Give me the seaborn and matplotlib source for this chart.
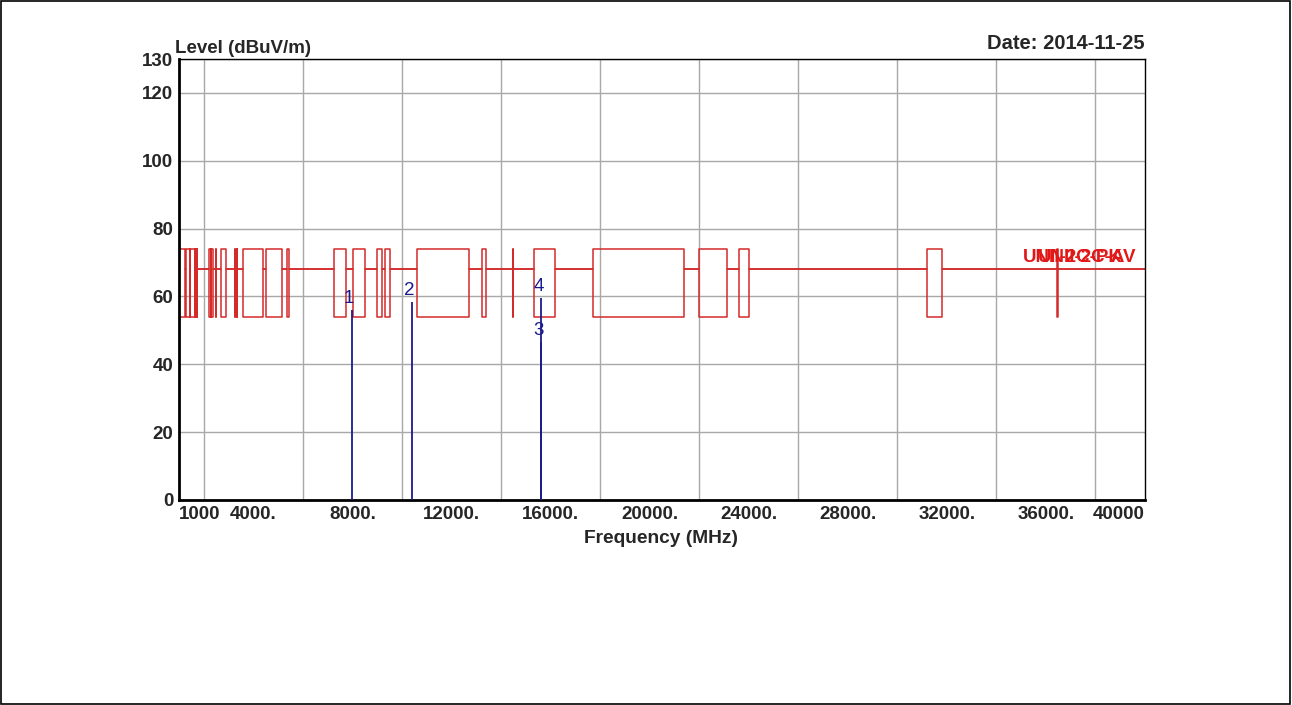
import numpy as np
import pandas as pd
import matplotlib
matplotlib.use("Agg")
import matplotlib.pyplot as plt
import seaborn as sns

# ---------------- data ----------------
# restricted band edges (MHz)
band_start = [1000, 1300, 1435, 1645.5, 1660, 1718.8, 2200, 2310, 2483.5, 2690,
              3260, 3332, 3345.8, 3600, 4500, 5350, 7250, 8025, 9000, 9300,
              10600, 13250, 14470, 15350, 17700, 22010, 23600, 31200, 36430]
band_end = [1240, 1427, 1626.5, 1646.5, 1710, 1722.2, 2300, 2390, 2500, 2900,
            3267, 3339, 3358, 4400, 5150, 5460, 7750, 8500, 9200, 9500,
            12700, 13400, 14500, 16200, 21400, 23120, 24000, 31800, 36500]
limit_base = 68.2      # dBuV/m outside restricted bands
limit_peak = 74.0      # peak limit inside restricted bands
limit_avg = 54.0       # average limit inside restricted bands
freq_min, freq_max = 1000, 40000

marker_id = ["1", "2", "3", "4"]
marker_freq = [7970, 10390, 15620, 15620]
marker_level = [56.0, 58.4, 46.6, 59.6]

xtick_vals = [1000, 4000, 8000, 12000, 16000, 20000, 24000, 28000, 32000, 36000, 40000]
xtick_text = ["1000", "4000.", "8000.", "12000.", "16000.", "20000.", "24000.",
              "28000.", "32000.", "36000.", "40000"]
ytick_vals = [0, 20, 40, 60, 80, 100, 120, 130]

limit_labels = ["UNII-2C-PK", "UNII-2C-AV"]


def limit_path(inband):
    xs, ys = [], []
    if band_start[0] > freq_min:
        xs.append(freq_min); ys.append(limit_base)
    for s, e in zip(band_start, band_end):
        if s > freq_min:
            xs += [s, s]; ys += [limit_base, inband]
        else:
            xs.append(s); ys.append(inband)
        xs += [e, e]; ys += [inband, limit_base]
    xs.append(freq_max); ys.append(limit_base)
    return pd.DataFrame({"freq": xs, "level": ys})


pk = limit_path(limit_peak)
av = limit_path(limit_avg)

# ---------------- style ----------------
sns.set_theme(style="white")
plt.rcParams["font.family"] = ["Liberation Sans", "DejaVu Sans"]
plt.rcParams["font.weight"] = "bold"

fig = plt.figure(figsize=(12.92, 7.05), dpi=100)
fig.patch.set_facecolor("white")
W, H = 1292, 705
ax = fig.add_axes([179 / W, (H - 500) / H, (1145 - 179) / W, (500 - 59) / H])

red = "#d42a2a"
sns.lineplot(data=pk, x="freq", y="level", sort=False, estimator=None,
             color=red, lw=1.1, ax=ax)
sns.lineplot(data=av, x="freq", y="level", sort=False, estimator=None,
             color=red, lw=1.1, ax=ax)

blue = "#1a1a8c"
ax.vlines(marker_freq, 0, marker_level, color=blue, lw=1.3, zorder=3)
for mid, f, lv in zip(marker_id, marker_freq, marker_level):
    ax.text(f - 100, lv + 0.8, mid, color=blue, fontsize=13.5, fontweight="normal",
            ha="center", va="bottom", zorder=4)

ax.text(39100, 71.6, limit_labels[0], color="#e01818", fontsize=13.5, fontweight="bold",
        ha="right", va="center", zorder=4)
ax.text(39650, 71.6, limit_labels[1], color="#e01818", fontsize=13.5, fontweight="bold",
        ha="right", va="center", zorder=4)

ax.set_xlim(freq_min, freq_max)
ax.set_ylim(0, 130)
ax.set_xticks(xtick_vals)
ax.set_xticklabels(xtick_text)
ax.set_xticks(np.arange(2000, 40000, 2000), minor=True)
ax.set_yticks(ytick_vals)
ax.set_yticklabels([str(v) for v in ytick_vals])
ax.tick_params(axis="both", which="both", length=0, labelsize=13.5)
ax.tick_params(axis="x", pad=4)
ax.tick_params(axis="y", pad=4)
for lab in ax.get_xticklabels():
    lab.set_fontweight("bold")
for lab in ax.get_yticklabels():
    lab.set_fontweight("bold")
xl = ax.get_xticklabels()
xl[0].set_ha("left")
xl[-1].set_ha("right")

ax.grid(False)
ax.xaxis.grid(True, which="minor", color="#a8a8a8", lw=1)
ax.yaxis.grid(True, which="major", color="#a8a8a8", lw=1)
ax.set_axisbelow(True)
ax.set_xlabel("")
ax.set_ylabel("")
for side in ["top", "right"]:
    ax.spines[side].set_color("black")
    ax.spines[side].set_linewidth(1.0)
for side in ["left", "bottom"]:
    ax.spines[side].set_color("black")
    ax.spines[side].set_linewidth(2.0)

fig.text(175 / W, 1 - 57 / H, "Level (dBuV/m)", fontsize=13.5, fontweight="bold",
         ha="left", va="bottom")
fig.text(1145 / W, 1 - 53 / H, "Date: 2014-11-25", fontsize=14.5, fontweight="bold",
         ha="right", va="bottom")
fig.text(661 / W, 1 - 530 / H, "Frequency (MHz)", fontsize=13.8, fontweight="bold",
         ha="center", va="top")

fig.add_artist(plt.Rectangle((0.0005, 0.001), 0.998, 0.998, transform=fig.transFigure,
                             fill=False, edgecolor="black", lw=1.2))

fig.savefig("out.png", dpi=100)
